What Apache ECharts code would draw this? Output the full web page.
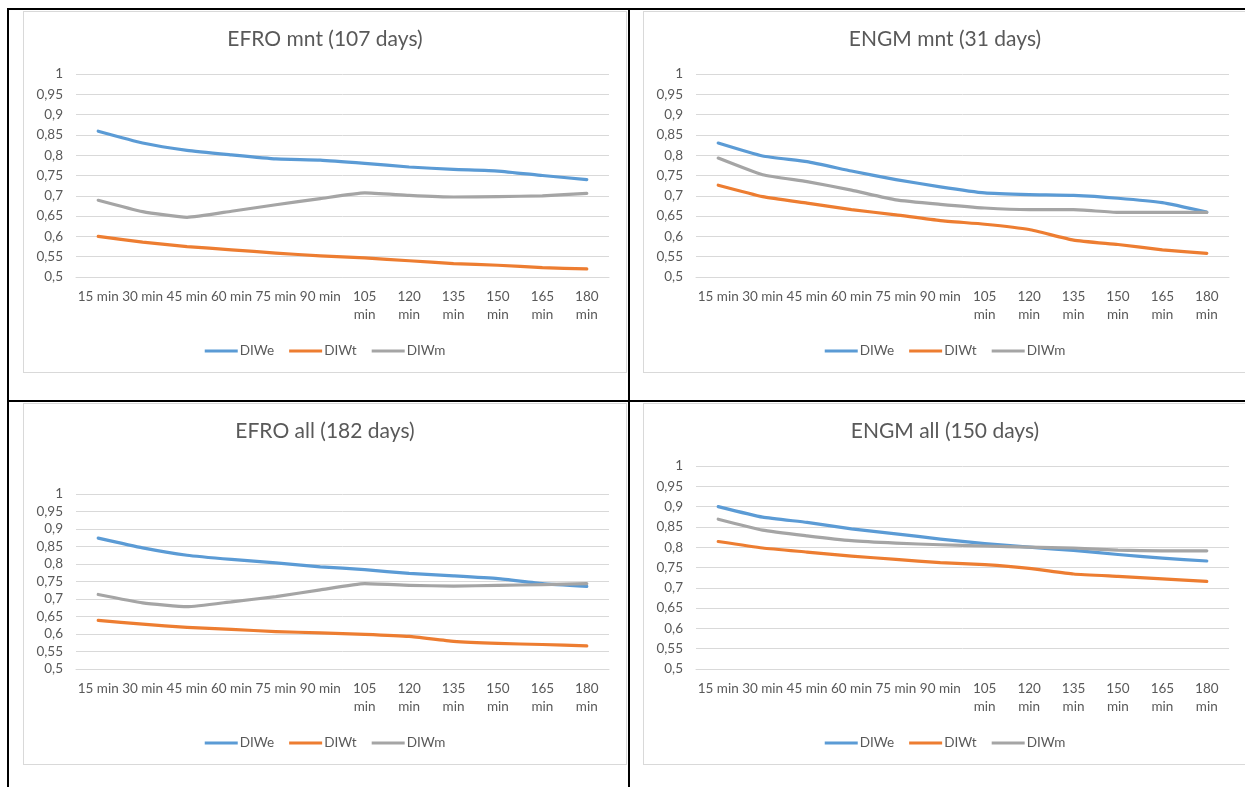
<!DOCTYPE html>
<html>
<head>
<meta charset="utf-8">
<title>DIW by time window</title>
<script src="https://cdn.jsdelivr.net/npm/echarts@6/dist/echarts.min.js"></script>
<style>
  html, body { margin: 0; padding: 0; background: #ffffff; }
  body { width: 1245px; height: 787px; position: relative; overflow: hidden; }
  .rule { position: absolute; background: #000000; }
  .panel { position: absolute; box-sizing: border-box; border: 1px solid #d9d9d9; background: #ffffff; }
</style>
</head>
<body>
<!-- table rules -->
<div class="rule" style="left:7px; top:8px; width:1238px; height:2px;"></div>
<div class="rule" style="left:7px; top:8px; width:2px; height:779px;"></div>
<div class="rule" style="left:628px; top:8px; width:2px; height:779px;"></div>
<div class="rule" style="left:7px; top:400px; width:1238px; height:2px;"></div>

<div id="p1" class="panel" style="left:23px; top:11px; width:604px; height:362px;"></div>
<div id="p2" class="panel" style="left:643px; top:11px; width:604px; height:362px;"></div>
<div id="p3" class="panel" style="left:23px; top:403px; width:604px; height:362px;"></div>
<div id="p4" class="panel" style="left:643px; top:403px; width:604px; height:362px;"></div>

<script>
// Time windows on the x axis
const categories = ['15 min', '30 min', '45 min', '60 min', '75 min', '90 min',
  '105 min', '120 min', '135 min', '150 min', '165 min', '180 min'];

// Y axis range
const yMin = 0.5;
const yMax = 1;
const yStep = 0.05;

// EFRO mnt (107 days)
const efroMntDIWe = [0.859, 0.830, 0.812, 0.801, 0.791, 0.788, 0.780, 0.771, 0.765, 0.761, 0.750, 0.740];
const efroMntDIWt = [0.600, 0.586, 0.575, 0.567, 0.559, 0.552, 0.547, 0.540, 0.533, 0.529, 0.523, 0.520];
const efroMntDIWm = [0.689, 0.661, 0.647, 0.662, 0.678, 0.693, 0.707, 0.701, 0.697, 0.698, 0.700, 0.706];

// ENGM mnt (31 days)
const engmMntDIWe = [0.830, 0.798, 0.784, 0.761, 0.740, 0.722, 0.707, 0.703, 0.701, 0.694, 0.683, 0.660];
const engmMntDIWt = [0.726, 0.698, 0.682, 0.666, 0.653, 0.639, 0.630, 0.617, 0.591, 0.580, 0.567, 0.558];
const engmMntDIWm = [0.793, 0.752, 0.735, 0.714, 0.690, 0.679, 0.670, 0.666, 0.666, 0.659, 0.659, 0.659];

// EFRO all (182 days)
const efroAllDIWe = [0.874, 0.846, 0.825, 0.813, 0.803, 0.792, 0.784, 0.773, 0.766, 0.758, 0.744, 0.736];
const efroAllDIWt = [0.639, 0.628, 0.619, 0.613, 0.607, 0.603, 0.599, 0.593, 0.579, 0.573, 0.570, 0.566];
const efroAllDIWm = [0.713, 0.689, 0.678, 0.692, 0.707, 0.726, 0.744, 0.739, 0.737, 0.739, 0.741, 0.744];

// ENGM all (150 days)
const engmAllDIWe = [0.900, 0.874, 0.861, 0.845, 0.833, 0.820, 0.809, 0.800, 0.792, 0.782, 0.773, 0.766];
const engmAllDIWt = [0.814, 0.798, 0.788, 0.778, 0.770, 0.762, 0.757, 0.748, 0.734, 0.728, 0.722, 0.716];
const engmAllDIWm = [0.869, 0.842, 0.828, 0.816, 0.810, 0.806, 0.803, 0.800, 0.798, 0.793, 0.791, 0.791];

const seriesNames = ['DIWe', 'DIWt', 'DIWm'];
const seriesColors = ['#5b9bd5', '#ed7d31', '#a5a5a5'];

const FONT = 'Lato, "Open Sans", sans-serif';
const TEXT = '#595959';
const GRID = '#d9d9d9';

function buildOption(title, data, gridTop) {
  return {
    animation: false,
    title: {
      text: title,
      left: 'center',
      top: 12,
      textStyle: { fontFamily: FONT, fontSize: 21, fontWeight: 'normal', color: TEXT }
    },
    legend: {
      data: seriesNames,
      left: 'center',
      top: 327,
      icon: 'rect',
      itemWidth: 33,
      itemHeight: 3,
      itemGap: 15,
      textStyle: { fontFamily: FONT, fontSize: 13.5, color: TEXT, padding: [0, 0, 0, -3] }
    },
    grid: { left: 52, right: 17, top: gridTop, bottom: 95, containLabel: false },
    xAxis: {
      type: 'category',
      data: categories,
      boundaryGap: true,
      axisLine: { show: true, lineStyle: { color: GRID, width: 1 } },
      axisTick: { show: false },
      axisLabel: {
        interval: 0,
        margin: 10,
        color: TEXT,
        fontFamily: FONT,
        fontSize: 13.5,
        lineHeight: 18.5,
        formatter: function (v) {
          return parseInt(v, 10) >= 100 ? v.replace(' ', '\n') : v;
        }
      },
      splitLine: { show: false }
    },
    yAxis: {
      type: 'value',
      min: yMin,
      max: yMax,
      interval: yStep,
      axisLine: { show: false },
      axisTick: { show: false },
      axisLabel: {
        margin: 13,
        color: TEXT,
        fontFamily: FONT,
        fontSize: 13.5,
        formatter: function (v) {
          return String(+v.toFixed(2)).replace('.', ',');
        }
      },
      splitLine: { show: true, lineStyle: { color: GRID, width: 1 } }
    },
    series: data.map(function (values, i) {
      return {
        name: seriesNames[i],
        type: 'line',
        data: values,
        showSymbol: false,
        symbol: 'none',
        smooth: 0.15,
        color: seriesColors[i],
        lineStyle: { color: seriesColors[i], width: 3.2, cap: 'round', join: 'round' },
        z: 2 + i
      };
    })
  };
}

const panels = [
  ['p1', 'EFRO mnt (107 days)', [efroMntDIWe, efroMntDIWt, efroMntDIWm], 62],
  ['p2', 'ENGM mnt (31 days)', [engmMntDIWe, engmMntDIWt, engmMntDIWm], 62],
  ['p3', 'EFRO all (182 days)', [efroAllDIWe, efroAllDIWt, efroAllDIWm], 90],
  ['p4', 'ENGM all (150 days)', [engmAllDIWe, engmAllDIWt, engmAllDIWm], 62]
];

panels.forEach(function (p) {
  const chart = echarts.init(document.getElementById(p[0]), null, { renderer: 'canvas' });
  chart.setOption(buildOption(p[1], p[2], p[3]));
});
</script>
</body>
</html>
